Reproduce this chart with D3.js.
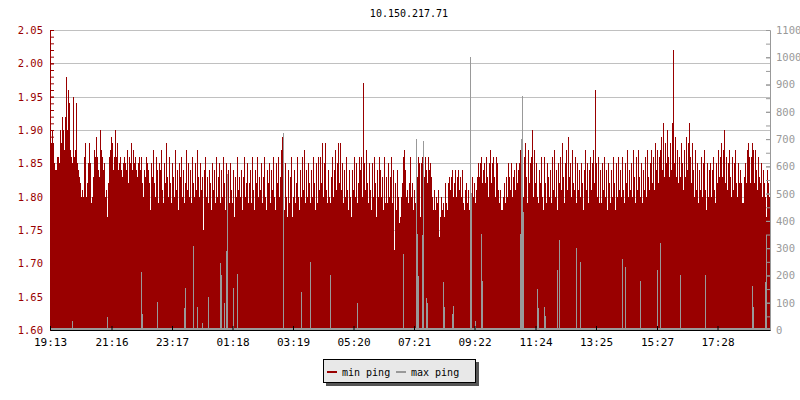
<!DOCTYPE html>
<html><head><meta charset="utf-8">
<script src="https://cdn.jsdelivr.net/npm/d3@7"></script>
<style>body{margin:0;background:#fff}svg{display:block}text{font-family:"DejaVu Sans Mono",monospace}</style>
</head><body><svg id="c" width="800" height="400"></svg>
<script>
const chartTitle = "10.150.217.71";
const startLabel = "19:13";
const spanMinutes = 1440;
const tickLabels = ["19:13","21:16","23:17","01:18","03:19","05:20","07:21","09:22","11:24","13:25","15:27","17:28"];
const leftTicks = [1.60,1.65,1.70,1.75,1.80,1.85,1.90,1.95,2.00,2.05];
const rightTicks = [0,100,200,300,400,500,600,700,800,900,1000,1100];
const seriesNames = ["min ping","max ping"];
const minPing = [
1.88,1.88,1.90,1.88,1.85,1.84,1.84,1.86,1.86,1.85,
1.90,1.88,1.92,1.90,1.87,1.92,1.98,1.90,1.96,1.94,
1.87,1.86,1.85,1.95,1.86,1.87,1.94,1.85,1.84,1.83,
1.82,1.80,1.81,1.80,1.86,1.88,1.80,1.82,1.85,1.88,
1.85,1.79,1.80,1.83,1.87,1.86,1.89,1.86,1.84,1.83,
1.90,1.87,1.86,1.84,1.85,1.80,1.81,1.77,1.82,1.86,
1.87,1.89,1.88,1.84,1.86,1.90,1.86,1.88,1.84,1.85,
1.86,1.84,1.83,1.85,1.86,1.85,1.84,1.87,1.82,1.86,
1.85,1.88,1.84,1.87,1.85,1.86,1.84,1.83,1.85,1.86,
1.84,1.86,1.82,1.80,1.84,1.83,1.86,1.85,1.84,1.82,
1.78,1.85,1.83,1.87,1.82,1.80,1.86,1.84,1.79,1.85,
1.84,1.87,1.81,1.79,1.85,1.82,1.88,1.83,1.80,1.86,
1.82,1.79,1.85,1.83,1.80,1.87,1.81,1.84,1.78,1.85,
1.83,1.86,1.80,1.84,1.79,1.82,1.87,1.81,1.85,1.80,
1.84,1.79,1.86,1.82,1.80,1.85,1.81,1.87,1.83,1.80,
1.85,1.81,1.83,1.75,1.84,1.86,1.80,1.83,1.79,1.84,
1.82,1.78,1.85,1.81,1.84,1.79,1.86,1.80,1.83,1.85,
1.79,1.84,1.80,1.86,1.82,1.78,1.85,1.81,1.84,1.79,
1.85,1.81,1.79,1.84,1.77,1.83,1.80,1.86,1.81,1.83,
1.80,1.84,1.78,1.83,1.86,1.80,1.82,1.85,1.79,1.82,
1.84,1.79,1.86,1.81,1.78,1.84,1.82,1.86,1.80,1.83,
1.81,1.85,1.79,1.83,1.86,1.80,1.78,1.84,1.82,1.85,
1.79,1.84,1.81,1.86,1.80,1.78,1.85,1.82,1.86,1.80,
1.83,1.87,1.89,1.81,1.78,1.85,1.80,1.77,1.84,1.79,
1.83,1.86,1.77,1.80,1.84,1.79,1.82,1.86,1.80,1.78,
1.84,1.80,1.86,1.81,1.87,1.79,1.84,1.80,1.85,1.82,
1.79,1.84,1.80,1.86,1.82,1.78,1.85,1.79,1.86,1.81,
1.86,1.82,1.88,1.80,1.85,1.88,1.81,1.79,1.84,1.80,
1.79,1.83,1.86,1.80,1.84,1.87,1.81,1.85,1.88,1.82,
1.88,1.81,1.85,1.79,1.84,1.80,1.86,1.81,1.78,1.84,
1.80,1.77,1.84,1.81,1.86,1.80,1.85,1.79,1.82,1.86,
1.84,1.86,1.80,1.97,1.85,1.81,1.87,1.82,1.79,1.85,
1.81,1.78,1.85,1.80,1.86,1.82,1.77,1.84,1.80,1.86,
1.84,1.80,1.83,1.78,1.86,1.79,1.83,1.79,1.85,1.80,
1.83,1.86,1.79,1.84,1.72,1.82,1.78,1.84,1.80,1.76,
1.77,1.80,1.82,1.86,1.87,1.84,1.80,1.81,1.79,1.82,
1.86,1.80,1.82,1.78,1.81,1.79,1.78,1.83,1.86,1.85,
1.77,1.85,1.86,1.84,1.83,1.86,1.84,1.82,1.86,1.84,
1.85,1.83,1.80,1.78,1.81,1.78,1.80,1.79,1.81,1.74,
1.77,1.80,1.78,1.79,1.77,1.82,1.79,1.78,1.82,1.83,
1.81,1.83,1.84,1.80,1.82,1.84,1.80,1.83,1.84,1.81,
1.83,1.80,1.84,1.79,1.78,1.81,1.82,1.79,1.81,1.78,
1.82,1.80,1.83,1.80,1.82,1.79,1.81,1.83,1.85,1.83,
1.85,1.86,1.82,1.84,1.85,1.82,1.86,1.83,1.80,1.85,
1.87,1.82,1.85,1.86,1.83,1.80,1.86,1.85,1.81,1.79,
1.81,1.78,1.78,1.80,1.82,1.79,1.83,1.80,1.85,1.83,
1.81,1.85,1.80,1.83,1.84,1.81,1.85,1.82,1.84,1.85,
1.87,1.88,1.84,1.80,1.86,1.88,1.83,1.79,1.87,1.82,
1.85,1.86,1.90,1.80,1.87,1.82,1.85,1.80,1.79,1.84,
1.82,1.86,1.80,1.78,1.86,1.82,1.79,1.85,1.83,1.80,
1.84,1.79,1.86,1.81,1.87,1.80,1.84,1.78,1.85,1.82,
1.86,1.81,1.88,1.83,1.79,1.85,1.87,1.81,1.89,1.83,
1.85,1.80,1.87,1.82,1.81,1.86,1.79,1.85,1.81,1.84,
1.80,1.85,1.82,1.78,1.84,1.87,1.81,1.85,1.79,1.84,
1.86,1.81,1.85,1.87,1.82,1.96,1.85,1.80,1.86,1.79,
1.84,1.79,1.85,1.81,1.86,1.80,1.84,1.78,1.85,1.82,
1.79,1.84,1.80,1.86,1.82,1.78,1.85,1.80,1.86,1.81,
1.84,1.80,1.86,1.81,1.79,1.85,1.82,1.87,1.80,1.84,
1.81,1.85,1.80,1.87,1.83,1.79,1.86,1.81,1.87,1.83,
1.80,1.85,1.79,1.84,1.81,1.86,1.80,1.87,1.83,1.81,
1.85,1.87,1.82,1.86,1.81,1.88,1.84,1.87,1.82,1.86,
1.87,1.89,1.84,1.91,1.83,1.88,1.85,1.90,1.86,1.83,
1.88,1.84,1.91,2.02,1.85,1.89,1.83,1.87,1.82,1.86,
1.83,1.88,1.85,1.81,1.87,1.83,1.89,1.84,1.88,1.91,
1.86,1.82,1.88,1.84,1.80,1.87,1.81,1.85,1.79,1.84,
1.81,1.86,1.80,1.85,1.87,1.81,1.78,1.85,1.80,1.84,
1.85,1.80,1.84,1.86,1.81,1.79,1.85,1.82,1.87,1.83,
1.86,1.88,1.83,1.87,1.90,1.82,1.86,1.81,1.85,1.87,
1.83,1.80,1.86,1.81,1.85,1.87,1.82,1.80,1.85,1.82,
1.84,1.82,1.79,1.79,1.83,1.85,1.82,1.87,1.88,1.86,
1.82,1.86,1.88,1.87,1.82,1.87,1.84,1.81,1.86,1.83,
1.82,1.85,1.80,1.84,1.82,1.80,1.77,1.84,1.82,1.80];
const maxPing = [
7,8,6,9,7,8,7,6,8,7,
8,7,9,7,6,8,7,8,9,7,
7,8,33,7,8,6,7,9,8,7,
8,7,6,8,9,7,8,7,6,8,
7,9,8,7,6,8,7,8,9,7,
8,7,6,8,7,9,8,48,7,8,
7,8,9,7,8,6,7,8,7,9,
8,7,6,8,7,8,9,7,8,6,
7,8,7,9,8,7,6,8,7,8,
9,213,60,8,7,6,8,7,9,8,
7,8,6,7,8,9,7,103,8,7,
8,7,9,8,6,7,8,7,9,8,
7,8,7,6,8,9,7,8,7,6,
8,7,9,8,80,154,7,8,6,7,
8,9,7,308,8,7,6,84,8,7,
9,7,26,8,7,8,6,9,121,7,
8,7,9,8,7,6,8,7,9,8,
245,200,7,8,99,8,290,572,7,8,
9,7,8,154,7,8,6,205,8,7,
8,9,7,8,6,7,8,9,7,8,
7,8,6,9,7,8,7,6,8,7,
8,7,9,7,6,8,7,8,9,7,
7,8,6,7,8,6,7,9,8,7,
8,7,6,722,9,7,8,7,6,8,
7,9,8,7,6,8,7,8,9,7,
8,140,6,8,7,9,8,7,7,8,
250,8,9,7,8,6,7,8,7,9,
8,7,6,8,7,8,9,7,8,6,
200,8,7,9,8,7,6,8,7,8,
9,8,7,8,7,6,8,7,9,8,
7,8,6,7,8,9,7,100,8,7,
8,7,9,8,6,7,8,7,9,8,
7,8,7,6,8,9,7,8,7,6,
8,7,9,8,7,6,7,8,6,7,
8,9,7,8,8,7,6,9,8,7,
9,7,8,280,7,8,6,9,7,7,
8,7,9,8,7,6,700,352,198,8,
7,8,350,693,8,9,117,100,8,7,
8,7,9,8,7,6,8,7,9,8,
7,8,7,176,84,9,7,8,7,6,
8,7,60,88,7,6,7,8,6,7,
8,9,7,8,8,7,6,9,8,7,
1002,502,8,7,9,33,7,8,6,8,
7,352,180,8,7,6,8,7,9,8,
7,8,6,7,8,9,7,8,8,7,
8,7,9,8,6,7,8,7,9,8,
7,8,7,6,8,9,7,8,7,6,
352,700,858,433,7,6,7,8,6,7,
8,9,7,8,8,7,6,150,80,7,
9,7,8,7,84,50,6,9,7,7,
8,7,9,8,7,6,8,220,9,330,
7,8,6,9,7,8,7,6,8,7,
8,7,9,7,6,8,300,8,9,7,
250,8,6,7,8,6,7,9,8,7,
8,7,6,8,9,7,8,7,6,8,
7,9,8,7,6,8,7,8,9,7,
8,7,6,8,7,9,8,7,7,8,
7,8,260,7,8,230,7,8,7,9,
8,7,6,8,7,8,9,7,8,6,
180,8,7,9,8,7,6,8,7,8,
9,8,7,8,7,6,8,220,9,8,
320,8,6,7,8,9,7,8,8,7,
8,7,9,8,6,7,8,7,9,8,
200,8,7,6,8,9,7,8,7,6,
8,7,9,8,7,6,7,8,6,7,
8,9,7,8,8,200,6,9,8,7,
9,7,8,7,7,8,6,9,7,7,
8,7,9,8,7,6,8,7,9,8,
7,8,6,7,8,9,7,8,7,6,
8,7,9,8,7,6,7,8,6,7,
8,9,162,84,8,7,6,9,8,7,
9,7,8,7,7,176,348,9,7,7];

const svg = d3.select("#c");
const parse = s => { const [h,m] = s.split(":").map(Number); return h*60+m; };
const base = new Date(2020,0,1,0,0,0);
const startMin = parse(startLabel);
const t0 = new Date(+base + startMin*60000);
const t1 = new Date(+t0 + spanMinutes*60000);
const tickDates = tickLabels.map(l => { let m = parse(l); if (m < startMin) m += 1440; return new Date(+base + m*60000); });

const x = d3.scaleTime().domain([t0,t1]).range([50,770]);
const yL = d3.scaleLinear().domain([1.60,2.05]).range([330,30]);
const yR = d3.scaleLinear().domain([0,1100]).range([330,30]);

// gridlines
svg.append("g").selectAll("rect").data(leftTicks.slice(1)).join("rect")
  .attr("x",50).attr("width",720).attr("y",d=>Math.round(yL(d))).attr("height",1).attr("fill","#c0c0c0");

const N = minPing.length, stepMs = spanMinutes*60000/N;
const bx = i => Math.round(x(new Date(+t0 + i*stepMs)));
svg.append("g").attr("shape-rendering","crispEdges").selectAll("rect").data(minPing).join("rect")
  .attr("x",(d,i)=>bx(i)).attr("width",(d,i)=>bx(i+1)-bx(i))
  .attr("y",d=>Math.round(yL(d))).attr("height",d=>330-Math.round(yL(d))).attr("fill","#990000");
svg.append("g").attr("shape-rendering","crispEdges").selectAll("rect").data(maxPing).join("rect")
  .attr("x",(d,i)=>bx(i)).attr("width",(d,i)=>bx(i+1)-bx(i))
  .attr("y",d=>Math.min(328,Math.round(yR(d)))).attr("height",d=>330-Math.min(328,Math.round(yR(d)))).attr("fill","#999999");

// left axis
const minorL = d3.range(0,46).map(i=>1.60+i*0.01);
const gL = svg.append("g").attr("transform","translate(50,0)");
gL.call(d3.axisLeft(yL).tickValues(minorL).tickSize(-4).tickSizeOuter(0).tickFormat(""));
gL.append("g").call(d3.axisLeft(yL).tickValues(leftTicks).tickSize(-4).tickSizeOuter(0).tickPadding(7).tickFormat(d3.format(".2f")));
gL.selectAll("path,line").attr("stroke","#990000");
gL.selectAll("text").attr("fill","#990000").style("font-size","10.5px");

// right axis
const minorR = d3.range(0,23).map(i=>i*50);
const gR = svg.append("g").attr("transform","translate(770,0)");
gR.call(d3.axisRight(yR).tickValues(minorR).tickSize(-4).tickSizeOuter(0).tickFormat(""));
gR.append("g").call(d3.axisRight(yR).tickValues(rightTicks).tickSize(-4).tickSizeOuter(0).tickPadding(6).tickFormat(d3.format("d")));
gR.selectAll("path,line").attr("stroke","#999999");
gR.selectAll("text").attr("fill","#999999").style("font-size","10.5px");

// bottom axis
const gB = svg.append("g").attr("transform","translate(0,330)");
gB.call(d3.axisBottom(x).tickValues(tickDates).tickSize(-4).tickSizeOuter(0).tickPadding(8).tickFormat((d,i)=>tickLabels[i]));
gB.selectAll("path,line").attr("stroke","#000");
gB.selectAll("text").attr("fill","#000").style("font-size","11px");

// title
svg.append("text").attr("x",409).attr("y",17).attr("text-anchor","middle").style("font-size","10px").text(chartTitle);

// legend
const lg = svg.append("g").attr("shape-rendering","crispEdges");
lg.append("rect").attr("x",326).attr("y",362).attr("width",153).attr("height",24).attr("fill","#555");
lg.append("rect").attr("x",323.5).attr("y",359.5).attr("width",152).attr("height",23).attr("fill","#e8e8e8").attr("stroke","#000");
const colors = ["#990000","#999999"], lx = [327,396];
seriesNames.forEach((n,i)=>{
  lg.append("rect").attr("x",lx[i]).attr("y",371).attr("width",10).attr("height",2).attr("fill",colors[i]);
  lg.append("text").attr("x",lx[i]+15).attr("y",375.5).style("font-size","10px").attr("fill","#000").text(n);
});
</script></body></html>
